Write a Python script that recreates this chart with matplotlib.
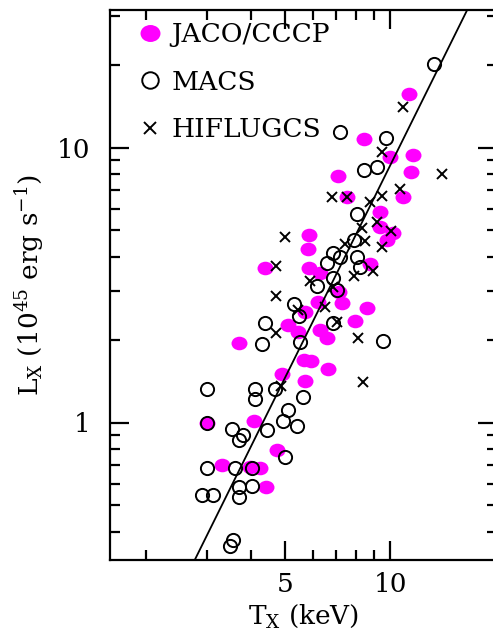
import numpy as np
import matplotlib
matplotlib.use("Agg")
import matplotlib.pyplot as plt
from matplotlib.path import Path
from matplotlib.transforms import Affine2D
from matplotlib.ticker import FixedLocator, NullFormatter, FixedFormatter

# JACO/CCCP clusters (filled magenta)
jaco_T = [11.3, 8.42, 10.0, 11.6, 11.5, 7.09, 7.53, 10.9, 9.36, 9.36, 10.2, 9.80,
          5.86, 5.82, 4.38, 5.86, 6.30, 8.76, 7.28, 8.59, 7.14, 5.10, 5.45, 5.71,
          6.22, 6.30, 6.60, 7.94, 3.69, 5.67, 5.94, 6.64, 4.90, 5.71, 2.99, 4.08,
          4.74, 3.30, 3.97, 4.24, 4.41]
jaco_L = [15.6, 10.7, 9.20, 9.43, 8.12, 7.85, 6.59, 6.59, 5.81, 5.13, 4.88, 4.60,
          4.80, 4.27, 3.64, 3.64, 3.50, 3.77, 2.72, 2.61, 2.98, 2.26, 2.14, 2.52,
          2.74, 2.17, 2.03, 2.34, 1.95, 1.69, 1.68, 1.56, 1.50, 1.42, 1.00, 1.01,
          0.792, 0.699, 0.687, 0.681, 0.581]

# MACS clusters (open circles)
macs_T = [13.3, 7.19, 9.74, 8.42, 9.18, 8.04, 7.89, 6.86, 7.19, 8.04, 6.60, 8.20,
          6.18, 6.86, 7.05, 5.31, 5.48, 4.38, 6.86, 4.30, 5.52, 9.55, 2.99, 4.10,
          4.10, 4.68, 5.63, 5.10, 4.93, 5.41, 2.99, 4.44, 3.52, 3.79, 3.69, 5.00,
          2.99, 3.60, 4.02, 3.69, 4.02, 2.89, 3.11, 3.69, 3.55, 3.48]
macs_L = [20.2, 11.4, 10.8, 8.25, 8.46, 5.72, 4.60, 4.13, 4.00, 4.00, 3.80, 3.67,
          3.14, 3.35, 3.03, 2.70, 2.44, 2.30, 2.30, 1.93, 1.97, 1.98, 1.32, 1.32,
          1.22, 1.32, 1.24, 1.11, 1.01, 0.975, 1.00, 0.943, 0.951, 0.897, 0.861, 0.747,
          0.681, 0.681, 0.681, 0.581, 0.586, 0.544, 0.544, 0.535, 0.374, 0.355]

# HIFLUGCS clusters (crosses)
hif_T = [10.9, 9.48, 14.1, 10.7, 6.82, 7.53, 9.48, 8.76, 9.18, 8.31, 8.48, 10.06,
         9.48, 5.00, 7.43, 4.71, 8.94, 7.89, 5.90, 6.86, 4.71, 6.51, 5.45, 7.05,
         4.71, 8.10, 8.37, 4.87]
hif_L = [14.0, 9.67, 7.98, 7.04, 6.59, 6.59, 6.65, 6.32, 5.35, 5.09, 4.56, 4.96,
         4.34, 4.72, 4.45, 3.71, 3.55, 3.41, 3.27, 3.11, 2.89, 2.63, 2.57, 2.32,
         2.12, 2.03, 1.40, 1.36]

# best-fit power law L = norm * T^slope
fit_norm = 0.02334
fit_slope = 2.567

plt.rcParams['font.family'] = ['DejaVu Serif']
plt.rcParams['mathtext.fontset'] = 'dejavuserif'

fig = plt.figure(figsize=(4.93, 6.36), dpi=100)
ax = fig.add_axes([110 / 493, 76 / 636, 387 / 493, 550 / 636])

ellipse = Path.unit_circle().transformed(Affine2D().scale(1.0, 0.85))

ax.plot(jaco_T, jaco_L, linestyle='none', marker=ellipse, markersize=11.5,
        color='#ff00ff', markeredgewidth=0, label='JACO/CCCP', zorder=2)
ax.plot(macs_T, macs_L, linestyle='none', marker='o', markersize=9.5,
        markerfacecolor='none', markeredgecolor='black', markeredgewidth=1.4,
        label='MACS', zorder=3)
ax.plot(hif_T, hif_L, linestyle='none', marker='x', markersize=7,
        color='black', markeredgewidth=1.4, label='HIFLUGCS', zorder=4)

tt = np.logspace(np.log10(1.5), np.log10(25), 50)
ax.plot(tt, fit_norm * tt ** fit_slope, color='black', lw=1.3, zorder=5)

ax.set_xscale('log')
ax.set_yscale('log')
ax.set_xlim(1.58, 20.2)
ax.set_ylim(10 ** -0.5, 10 ** 1.5)

ax.xaxis.set_major_locator(FixedLocator([5, 10]))
ax.xaxis.set_major_formatter(FixedFormatter(['5', '10']))
ax.xaxis.set_minor_locator(FixedLocator([2, 3, 4, 6, 7, 8, 9]))
ax.xaxis.set_minor_formatter(NullFormatter())
ax.yaxis.set_major_locator(FixedLocator([1, 10]))
ax.yaxis.set_major_formatter(FixedFormatter(['1', '10']))
ax.yaxis.set_minor_locator(FixedLocator([0.4, 0.5, 0.6, 0.7, 0.8, 0.9,
                                         2, 3, 4, 5, 6, 7, 8, 9, 20, 30]))
ax.yaxis.set_minor_formatter(NullFormatter())

ax.tick_params(which='both', direction='in', top=True, right=True, width=1.6,
               labelsize=19)
ax.tick_params(axis='x', which='major', pad=9)
ax.tick_params(axis='y', which='major', pad=14)
ax.tick_params(which='major', length=14)
ax.tick_params(which='minor', length=7)
for s in ax.spines.values():
    s.set_linewidth(1.6)

ax.set_xlabel(r'T$_{\rm X}$ (keV)', fontsize=19, labelpad=4)
ax.set_ylabel(r'L$_{\rm X}$ (10$^{45}$ erg s$^{-1}$)', fontsize=19, labelpad=8)

ax.legend(loc='upper left', bbox_to_anchor=(0.07, 0.985), frameon=False,
          fontsize=19, handlelength=0.7, handletextpad=0.45, labelspacing=0.85,
          borderaxespad=0, borderpad=0.15, markerscale=1.25)

fig.savefig('out.png', dpi=100)
